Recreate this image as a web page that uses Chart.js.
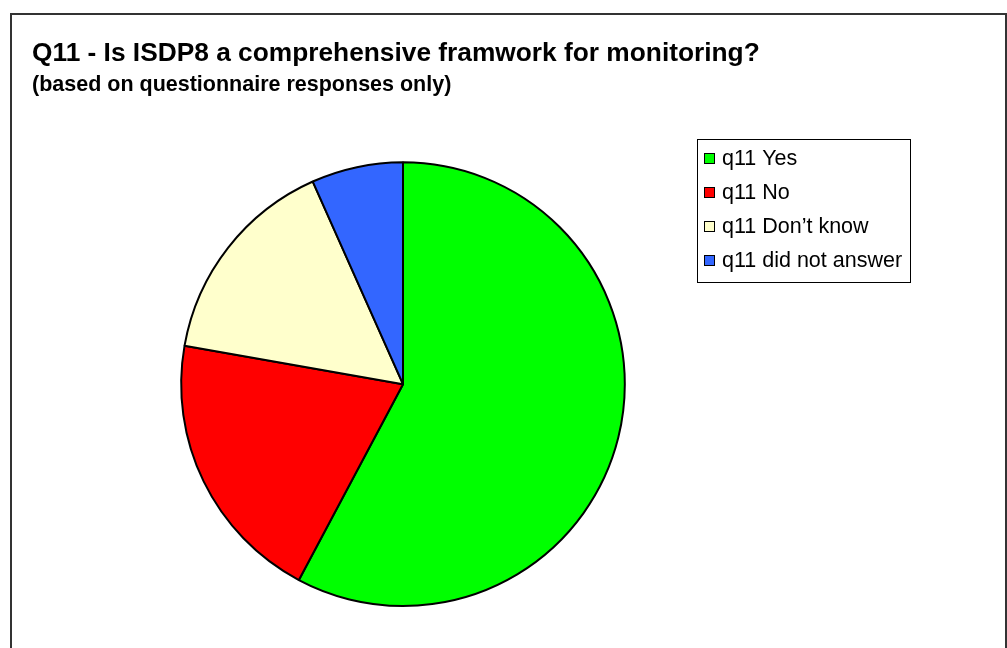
<!DOCTYPE html>
<html>
<head>
<meta charset="utf-8">
<script src="https://cdn.jsdelivr.net/npm/chart.js@4"></script>
<style>
  html, body { margin: 0; padding: 0; background: #fff; }
  #wrap { position: relative; width: 1007px; height: 648px; }
</style>
</head>
<body>
<div id="wrap"><canvas id="pieChart"></canvas></div>
<script>
'use strict';
// ===================== data =====================
const labels = ['q11 Yes', 'q11 No', 'q11 Don\u2019t know', 'q11 did not answer'];
const counts = [26, 9, 7, 3];
const colors = ['#00ff00', '#ff0000', '#ffffcc', '#3366ff'];

const FONT = '"Liberation Sans", Arial, sans-serif';

// outer frame of the chart (bottom edge runs off the page)
const framePlugin = {
    id: 'frame',
    beforeDraw(chart) {
        const c = chart.ctx;
        c.save();
        c.strokeStyle = '#333';
        c.lineWidth = 2;
        c.strokeRect(11, 14, 995, 700);
        c.restore();
    }
};

// boxed legend like the original spreadsheet chart
const boxLegend = {
    id: 'boxLegend',
    afterDraw(chart) {
        const c = chart.ctx;
        const ds = chart.data.datasets[0];
        const x = 697, y = 139, w = 213, h = 143;
        c.save();
        c.fillStyle = '#fff';
        c.fillRect(x, y, w, h);
        c.strokeStyle = '#000';
        c.lineWidth = 1;
        c.strokeRect(x + 0.5, y + 0.5, w, h);
        c.font = '21.5px ' + FONT;
        c.textBaseline = 'middle';
        chart.data.labels.forEach((lab, i) => {
            const cy = 158 + i * 34;
            c.fillStyle = ds.backgroundColor[i];
            c.fillRect(704, cy - 5, 11, 11);
            c.strokeRect(704.5, cy - 4.5, 10, 10);
            c.fillStyle = '#000';
            c.fillText(lab, 722, cy + 1);
        });
        c.restore();
    }
};

new Chart(document.getElementById('pieChart'), {
    type: 'pie',
    data: {
        labels,
        datasets: [{
            data: counts,
            backgroundColor: colors,
            borderColor: '#000',
            borderWidth: 2
        }]
    },
    options: {
        responsive: true,
        maintainAspectRatio: false,
        animation: false,
        layout: { padding: { left: 32, right: 233, top: 0, bottom: 41 } },
        plugins: {
            legend: { display: false },
            tooltip: { enabled: false },
            title: {
                display: true,
                text: 'Q11 - Is ISDP8 a comprehensive framwork for monitoring?',
                align: 'start',
                color: '#000',
                font: { family: FONT, size: 26.3, weight: 'bold' },
                padding: { top: 38, bottom: 0 }
            },
            subtitle: {
                display: true,
                text: '(based on questionnaire responses only)',
                align: 'start',
                color: '#000',
                font: { family: FONT, size: 21.5, weight: 'bold' },
                padding: { top: 3, bottom: 63 }
            }
        }
    },
    plugins: [framePlugin, boxLegend]
});
</script>
</body>
</html>
